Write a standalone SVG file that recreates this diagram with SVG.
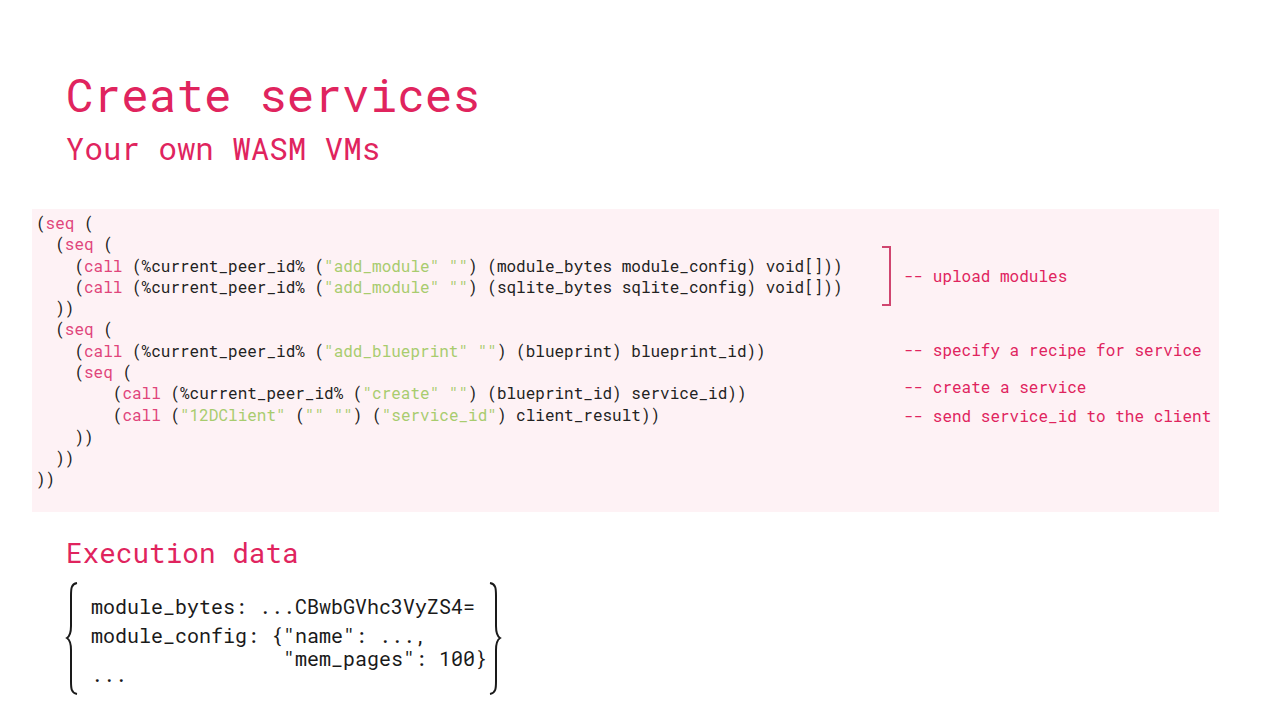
<svg xmlns="http://www.w3.org/2000/svg" width="1280" height="720" viewBox="0 0 1280 720">
<style>
.mono{font-family:"Roboto Mono","DejaVu Sans Mono","Liberation Mono",monospace}
.code{font-size:16px;fill:#222222}
.kw{fill:#e0457b}
.str{fill:#a8cc6e}
.cm{font-size:16px;fill:#e0245e}
.title{fill:#e0245e}
.data{font-size:20px;fill:#1a1a1a}
</style>
<rect width="1280" height="720" fill="#ffffff"/>
<g id="title">
<text class="mono title" x="66" y="112" font-size="46">Create services</text>
<text class="mono title" x="66" y="160" font-size="30.8">Your own WASM VMs</text>
</g>
<g id="code-block">
<rect x="32" y="209" width="1187" height="303" fill="#fef2f5"/>
<g class="mono code">
<text x="36" y="229">(<tspan class="kw">seq</tspan> (</text>
<text x="55.2" y="250">(<tspan class="kw">seq</tspan> (</text>
<text x="74.4" y="272">(<tspan class="kw">call</tspan> (%current_peer_id% (<tspan class="str">"add_module" ""</tspan>) (module_bytes module_config) void[]))</text>
<text x="74.4" y="293">(<tspan class="kw">call</tspan> (%current_peer_id% (<tspan class="str">"add_module" ""</tspan>) (sqlite_bytes sqlite_config) void[]))</text>
<text x="55.2" y="314">))</text>
<text x="55.2" y="335">(<tspan class="kw">seq</tspan> (</text>
<text x="74.4" y="357">(<tspan class="kw">call</tspan> (%current_peer_id% (<tspan class="str">"add_blueprint" ""</tspan>) (blueprint) blueprint_id))</text>
<text x="74.4" y="378">(<tspan class="kw">seq</tspan> (</text>
<text x="112.8" y="399">(<tspan class="kw">call</tspan> (%current_peer_id% (<tspan class="str">"create" ""</tspan>) (blueprint_id) service_id))</text>
<text x="112.8" y="421">(<tspan class="kw">call</tspan> (<tspan class="str">"12DClient"</tspan> (<tspan class="str">"" ""</tspan>) (<tspan class="str">"service_id"</tspan>) client_result))</text>
<text x="74.4" y="443">))</text>
<text x="55.2" y="464">))</text>
<text x="36" y="485">))</text>
</g>
</g>
<g id="comments">
<path d="M882 247 H890 V305 H882" fill="none" stroke="#d0456f" stroke-width="2"/>
<text class="mono cm" x="904" y="282">-- upload modules</text>
<text class="mono cm" x="904" y="356">-- specify a recipe for service</text>
<text class="mono cm" x="904" y="393">-- create a service</text>
<text class="mono cm" x="904" y="422">-- send service_id to the client</text>
</g>
<g id="execution-data">
<text class="mono title" x="66" y="563" font-size="27.7">Execution data</text>
<path d="M77 583 C71 584 71 589 71 596 V626 C71 632 70 636 67 638 C70 640 71 644 71 650 V681 C71 688 71 693 77 694" fill="none" stroke="#1a1a1a" stroke-width="2"/>
<path d="M490 583 C496 584 496 589 496 596 V626 C496 632 497 636 500 638 C497 640 496 644 496 650 V681 C496 688 496 693 490 694" fill="none" stroke="#1a1a1a" stroke-width="2"/>
<g class="mono data">
<text x="91" y="614">module_bytes: ...CBwbGVhc3VyZS4=</text>
<text x="91" y="643">module_config: {"name": ...,</text>
<text x="283" y="666">"mem_pages": 100}</text>
<text x="91" y="682">...</text>
</g>
</g>
</svg>
